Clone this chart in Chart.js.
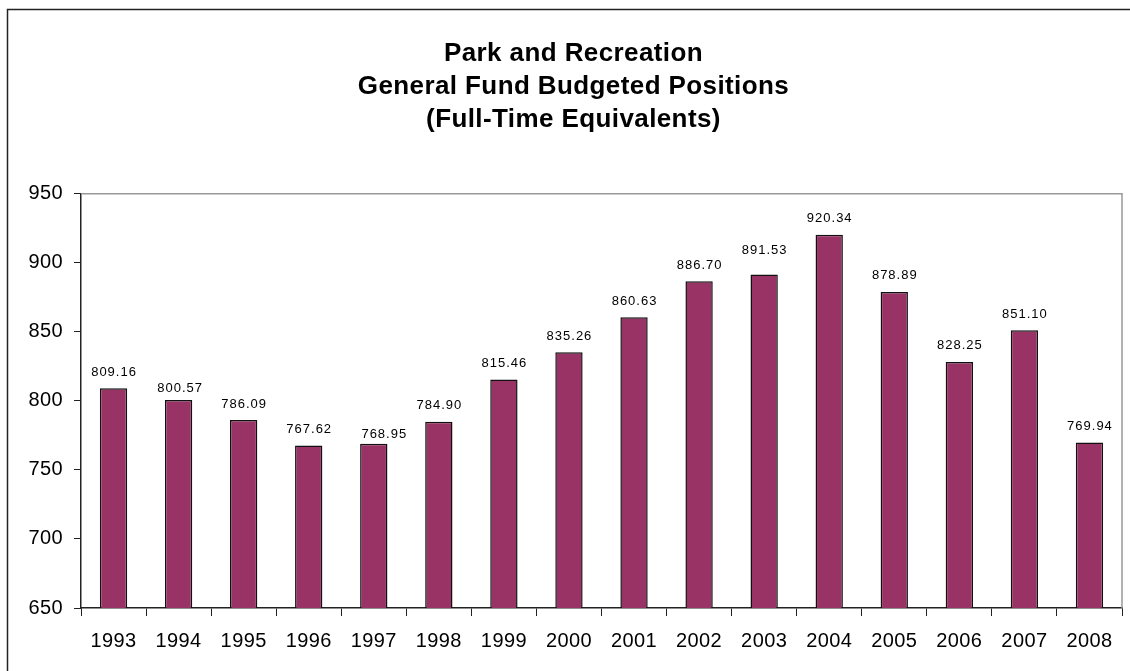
<!DOCTYPE html>
<html lang="en">
<head>
    <meta charset="UTF-8">
    <title>Park and Recreation Budgeted Positions</title>
    <script src="https://cdn.jsdelivr.net/npm/chart.js"></script>
    <style>
        html, body { margin: 0; padding: 0; background: #fff; }
        #wrap { width: 1130px; height: 671px; }
    </style>
</head>
<body>
    <div id="wrap"><canvas id="fteChart" width="1130" height="671"></canvas></div>

    <script>
        var years = ['1993', '1994', '1995', '1996', '1997', '1998', '1999', '2000',
                     '2001', '2002', '2003', '2004', '2005', '2006', '2007', '2008'];
        var positions = [809.16, 800.57, 786.09, 767.62, 768.95, 784.90, 815.46, 835.26,
                         860.63, 886.70, 891.53, 920.34, 878.89, 828.25, 851.10, 769.94];
        var titleLines = ['Park and Recreation', 'General Fund Budgeted Positions', '(Full-Time Equivalents)'];

        var FONT = 'Arial, "Liberation Sans", sans-serif';

        // a few value labels sit slightly off their default spot
        var labelNudge = { '1994': [1, 4], '1997': [10, 7], '2003': [0, -8] };

        // slightly wider text spacing everywhere
        var spacing = {
            id: 'spacing',
            beforeUpdate: function(chart) { chart.ctx.letterSpacing = '0.4px'; },
            beforeDraw: function(chart) { chart.ctx.letterSpacing = '0.4px'; }
        };

        // outer frame, plot frame (top/right) and value labels over each bar
        var decorations = {
            id: 'decorations',
            beforeDraw: function(chart) {
                var c = chart.ctx;
                c.save();
                c.strokeStyle = '#222';
                c.lineWidth = 1.5;
                c.beginPath();
                c.moveTo(7.5, 671);
                c.lineTo(7.5, 9.5);
                c.lineTo(1130, 9.5);
                c.stroke();
                c.restore();
            },
            afterDatasetsDraw: function(chart) {
                var c = chart.ctx;
                var area = chart.chartArea;
                c.save();
                c.strokeStyle = '#999';
                c.lineWidth = 1.5;
                c.beginPath();
                c.moveTo(area.left, area.top);
                c.lineTo(area.right, area.top);
                c.lineTo(area.right, area.bottom);
                c.stroke();

                c.fillStyle = '#000';
                c.font = '13px ' + FONT;
                c.letterSpacing = '1px';
                c.textAlign = 'center';
                c.textBaseline = 'alphabetic';
                chart.getDatasetMeta(0).data.forEach(function(bar, i) {
                    var n = labelNudge[years[i]] || [0, 0];
                    c.fillText(positions[i].toFixed(2), bar.x + n[0] + 0.5, bar.y - 12.5 + n[1]);
                });
                c.restore();
            }
        };

        var ctx = document.getElementById('fteChart').getContext('2d');
        var chart = new Chart(ctx, {
            type: 'bar',
            data: {
                labels: years,
                datasets: [{
                    label: 'Budgeted Positions',
                    data: positions,
                    backgroundColor: '#993366',
                    borderColor: '#111',
                    borderWidth: 1.5,
                    borderSkipped: false,
                    barPercentage: 0.42,
                    categoryPercentage: 1
                }]
            },
            options: {
                responsive: false,
                animation: false,
                layout: { padding: { left: 25, right: 8, top: 0, bottom: 0 } },
                plugins: {
                    legend: { display: false },
                    tooltip: { enabled: false },
                    title: {
                        display: true,
                        text: titleLines,
                        color: '#000',
                        font: { family: FONT, size: 26, weight: 'bold', lineHeight: 1.254 },
                        padding: { top: 38, bottom: 58 }
                    }
                },
                scales: {
                    x: {
                        offset: true,
                        grid: {
                            offset: true,
                            drawOnChartArea: false,
                            drawTicks: true,
                            tickLength: 8,
                            tickColor: '#222'
                        },
                        border: { color: '#222', width: 1.5 },
                        ticks: {
                            color: '#000',
                            font: { family: FONT, size: 20 },
                            padding: 13,
                            maxRotation: 0
                        },
                        afterFit: function(scale) { scale.height = 63; }
                    },
                    y: {
                        min: 650,
                        max: 950,
                        ticks: {
                            stepSize: 50,
                            color: '#000',
                            font: { family: FONT, size: 20 },
                            padding: 11
                        },
                        grid: {
                            drawOnChartArea: false,
                            drawTicks: true,
                            tickLength: 7,
                            tickColor: '#222'
                        },
                        border: { color: '#222', width: 1.5 },
                        afterFit: function(scale) { scale.width = 56; }
                    }
                }
            },
            plugins: [spacing, decorations]
        });
    </script>
</body>
</html>
